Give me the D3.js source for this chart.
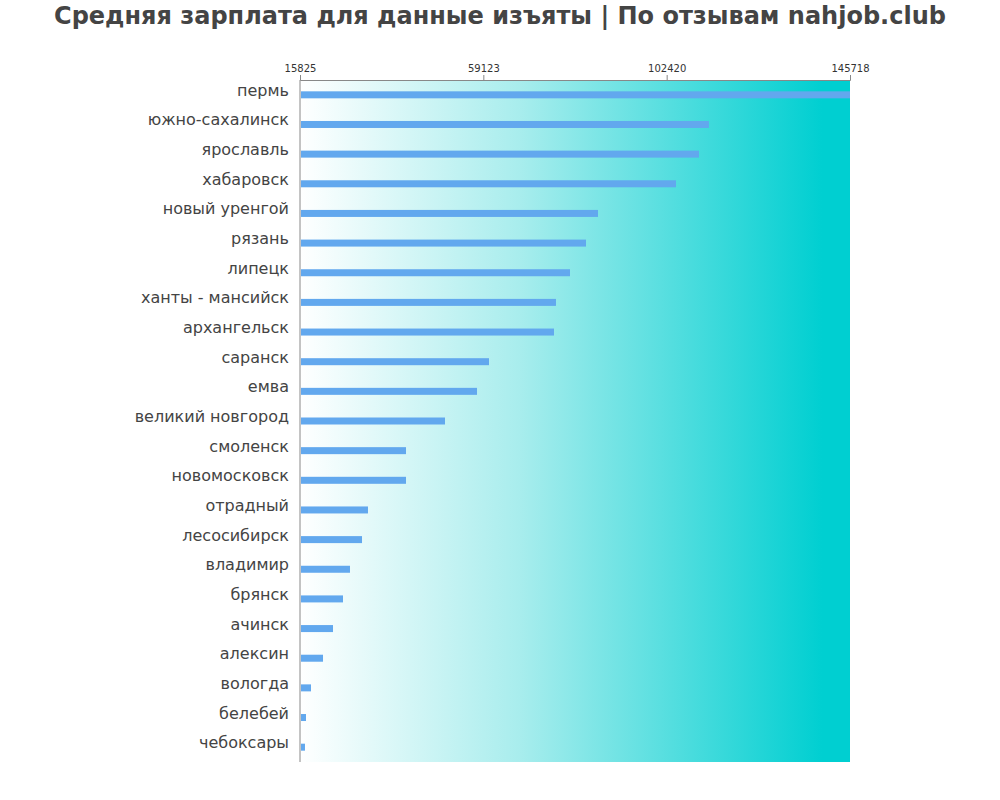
<!DOCTYPE html>
<html>
<head>
<meta charset="utf-8">
<script src="https://cdn.jsdelivr.net/npm/d3@7"></script>
<style>
  body { margin: 0; background: #fff; }
  text { font-family: "DejaVu Sans", sans-serif; }
</style>
</head>
<body>
<script>
// Data

const cities = ["пермь", "южно-сахалинск", "ярославль", "хабаровск", "новый уренгой",
  "рязань", "липецк", "ханты - мансийск", "архангельск", "саранск", "емва",
  "великий новгород", "смоленск", "новомосковск", "отрадный", "лесосибирск",
  "владимир", "брянск", "ачинск", "алексин", "вологда", "белебей", "чебоксары"];
const salaries = [145718, 112400, 110050, 104620, 86200, 83370, 79590, 76280, 75810,
  60460, 57630, 50070, 40860, 40860, 31880, 30470, 27630, 25980, 23620, 21260,
  18420, 17240, 17000];
const tickValues = [15825, 59123, 102420, 145718];

// Dimensions

const width = 1000;
const height = 800;
const plotLeft = 300;
const plotRight = 850;
const plotTop = 80;
const plotBottom = 762;

const svg = d3.select("body")
  .append("svg")
  .attr("width", width)
  .attr("height", height);

// Title

svg.append("text")
  .attr("x", 500)
  .attr("y", 24)
  .attr("text-anchor", "middle")
  .attr("font-size", 24)
  .attr("font-weight", "bold")
  .attr("fill", "#444")
  .text("Средняя зарплата для данные изъяты | По отзывам nahjob.club");

// Background gradient

const grad = svg.append("defs")
  .append("linearGradient")
  .attr("id", "bg")
  .attr("x1", "0%").attr("x2", "100%")
  .attr("y1", "0%").attr("y2", "0%");
grad.append("stop").attr("offset", "0%").attr("stop-color", "#ffffff");
grad.append("stop").attr("offset", "40%").attr("stop-color", "#a8eded");
grad.append("stop").attr("offset", "95%").attr("stop-color", "#00cfd1");
grad.append("stop").attr("offset", "100%").attr("stop-color", "#00cfd1");

svg.append("rect")
  .attr("x", plotLeft)
  .attr("y", plotTop)
  .attr("width", plotRight - plotLeft)
  .attr("height", plotBottom - plotTop)
  .attr("fill", "url(#bg)");

// Scales

const x = d3.scaleLinear()
  .domain([tickValues[0], tickValues[tickValues.length - 1]])
  .range([plotLeft, plotRight]);

const y = d3.scaleBand()
  .domain(cities)
  .range([plotTop, plotBottom]);

// Top axis

const xAxis = svg.append("g")
  .attr("transform", `translate(0,${plotTop})`)
  .call(d3.axisTop(x).tickValues(tickValues).tickFormat(d => d).tickSizeOuter(0).tickSize(5));
xAxis.select(".domain").attr("stroke", "#888");
xAxis.selectAll(".tick line").attr("stroke", "#888");
xAxis.selectAll("text")
  .attr("font-size", 10)
  .attr("fill", "#333")
  .attr("font-family", "DejaVu Sans, sans-serif");

// Left axis line

svg.append("line")
  .attr("x1", plotLeft).attr("x2", plotLeft)
  .attr("y1", plotTop).attr("y2", plotBottom)
  .attr("stroke", "#888");

// Bars

const barH = 7;
svg.selectAll(".bar")
  .data(cities)
  .enter()
  .append("rect")
  .attr("class", "bar")
  .attr("x", plotLeft + 1)
  .attr("y", d => y(d) + y.bandwidth() / 2 - barH / 2)
  .attr("width", (d, i) => x(salaries[i]) - plotLeft - 1)
  .attr("height", barH)
  .attr("fill", "#62a8ee");

// Labels

svg.selectAll(".label")
  .data(cities)
  .enter()
  .append("text")
  .attr("class", "label")
  .attr("x", plotLeft - 11)
  .attr("y", d => y(d) + y.bandwidth() / 2 + 1)
  .attr("text-anchor", "end")
  .attr("font-size", 16)
  .attr("fill", "#444")
  .text(d => d);
</script>
</body>
</html>
